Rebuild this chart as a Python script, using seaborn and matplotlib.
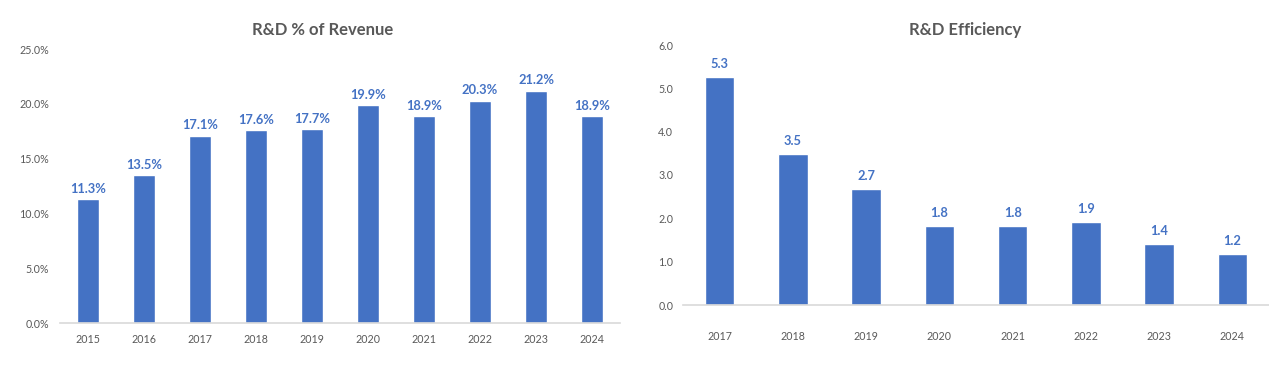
import matplotlib
matplotlib.use("Agg")
import matplotlib.pyplot as plt
import seaborn as sns
import pandas as pd
from matplotlib.ticker import FuncFormatter

years_pct = ["2015", "2016", "2017", "2018", "2019", "2020", "2021", "2022", "2023", "2024"]
rd_pct = [11.3, 13.5, 17.1, 17.6, 17.7, 19.9, 18.9, 20.3, 21.2, 18.9]

years_eff = ["2017", "2018", "2019", "2020", "2021", "2022", "2023", "2024"]
rd_eff = [5.26, 3.48, 2.68, 1.83, 1.83, 1.92, 1.41, 1.18]

BLUE = "#4472C4"
GREY = "#595959"
AXIS = "#D9D9D9"
FONT = ["Lato", "DejaVu Sans"]

sns.set_theme(style="white")
plt.rcParams["font.family"] = FONT

fig = plt.figure(figsize=(12.69, 3.67), dpi=100)
W, H = 1269, 367

def axes_px(x0, x1, ytop, ybot):
    return fig.add_axes([x0 / W, 1 - ybot / H, (x1 - x0) / W, (ybot - ytop) / H])

ax1 = axes_px(60, 620, 49, 323)
ax2 = axes_px(683, 1269, 45, 305)

df1 = pd.DataFrame({"year": years_pct, "value": rd_pct})
df2 = pd.DataFrame({"year": years_eff, "value": rd_eff})

sns.barplot(data=df1, x="year", y="value", color=BLUE, width=0.41, saturation=1, ax=ax1)
sns.barplot(data=df2, x="year", y="value", color=BLUE, width=0.40, saturation=1, ax=ax2)

ax1.set_ylim(0, 25)
ax1.set_yticks([0, 5, 10, 15, 20, 25])
ax1.yaxis.set_major_formatter(FuncFormatter(lambda v, p: f"{v:.1f}%"))
ax1.set_xlim(-0.5, len(years_pct) - 0.5)
ax1.bar_label(ax1.containers[0], labels=[f"{v:.1f}%" for v in rd_pct],
              padding=3, color=BLUE, fontweight="bold", fontsize=9.3)

ax2.set_ylim(0, 6)
ax2.set_yticks([0, 1, 2, 3, 4, 5, 6])
ax2.yaxis.set_major_formatter(FuncFormatter(lambda v, p: f"{v:.1f}"))
ax2.set_xlim(-0.5, len(years_eff) - 0.5)
ax2.bar_label(ax2.containers[0], labels=[f"{v:.1f}" for v in rd_eff],
              padding=5, color=BLUE, fontweight="bold", fontsize=9.3)

for ax, xpad, ypad in ((ax1, 8, 8), (ax2, 19, 7)):
    ax.set_xlabel("")
    ax.set_ylabel("")
    ax.grid(False)
    for s in ("top", "right", "left"):
        ax.spines[s].set_visible(False)
    ax.spines["bottom"].set_color(AXIS)
    ax.spines["bottom"].set_linewidth(1.2)
    ax.tick_params(axis="y", length=0, pad=ypad, labelsize=7.7, labelcolor=GREY)
    ax.tick_params(axis="x", length=0, pad=xpad, labelsize=7.7, labelcolor=GREY)
    ax.set_facecolor("none")

fig.text(323 / W, 1 - 30 / H, "R&D % of Revenue", ha="center", va="center",
         fontsize=12, fontweight="bold", color=GREY)
fig.text(965 / W, 1 - 30 / H, "R&D Efficiency", ha="center", va="center",
         fontsize=12, fontweight="bold", color=GREY)

fig.savefig("out.png", dpi=100, facecolor="white")
